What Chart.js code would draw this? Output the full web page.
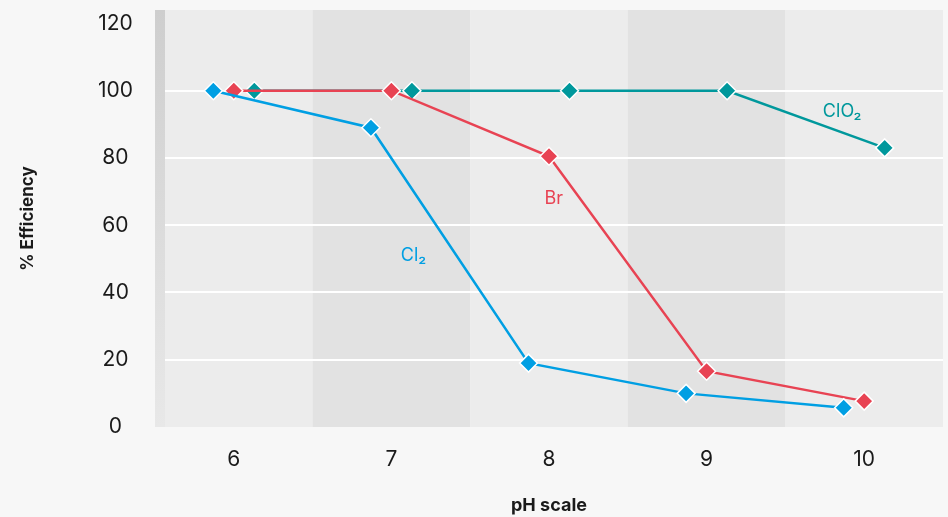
<!DOCTYPE html>
<html>
<head>
<meta charset="utf-8">
<script src="https://cdn.jsdelivr.net/npm/chart.js@4.4.1/dist/chart.umd.min.js"></script>
<style>
  html, body { margin: 0; padding: 0; background: #f7f7f7; overflow: hidden; }
  #wrap { width: 948px; height: 517px; }
</style>
</head>
<body>
<div id="wrap"><canvas id="effChart"></canvas></div>
<script>
// valeurs
const phLevels = [6, 7, 8, 9, 10];
const effTicks = [0, 20, 40, 60, 80, 100, 120];
const cl2Eff = [100, 89, 19, 10, 5.7];
const brEff = [100, 100, 80.5, 16.6, 7.7];
const clo2Eff = [100, 100, 100, 100, 83];
const seriesNames = ['Cl₂', 'Br', 'ClO₂'];
const seriesColors = ['#009fe3', '#e84353', '#00989c'];
const seriesShift = [-0.13, 0, 0.13]; // petit decalage dans chaque colonne
// position des etiquettes (en unites du graphique)
const labelPh = [7.14, 8.03, 9.86];
const labelEff = [51, 68, 93.8];

const fontFam = "Inter, 'Open Sans', 'DejaVu Sans', sans-serif";

function toPoints(values, shift) {
    return phLevels.map((p, i) => ({ x: p + shift, y: values[i] }));
} // transforme une serie en points x/y

function makeDataset(i, values) {
    return {
        label: seriesNames[i],
        data: toPoints(values, seriesShift[i]),
        borderColor: seriesColors[i],
        backgroundColor: seriesColors[i],
        borderWidth: 2.5,
        pointStyle: 'rectRot',
        pointRadius: 9,
        pointHoverRadius: 9,
        pointBorderColor: '#ffffff',
        pointBorderWidth: 1.5,
        tension: 0,
        clip: false
    };
}

// fond : colonnes alternees
const bandsPlugin = {
    id: 'bands',
    beforeDraw(chart) {
        const { ctx, chartArea: a, scales: { x } } = chart;
        ctx.save();
        ctx.fillStyle = '#f7f7f7';
        ctx.fillRect(0, 0, chart.width, chart.height);
        phLevels.forEach((p, i) => {
            const l = x.getPixelForValue(p - 0.5);
            const r = x.getPixelForValue(p + 0.5);
            ctx.fillStyle = i % 2 === 0 ? '#ececec' : '#e2e2e2';
            ctx.fillRect(l, a.top, r - l, a.bottom - a.top);
        });
        ctx.restore();
    },
    beforeDatasetsDraw(chart) {
        // bande grise a gauche, par dessus la grille
        const { ctx, chartArea: a } = chart;
        const g = ctx.createLinearGradient(0, a.top, 0, a.bottom);
        g.addColorStop(0, '#cecece');
        g.addColorStop(1, '#e8e8e8');
        ctx.save();
        ctx.fillStyle = g;
        ctx.fillRect(a.left, a.top, 10, a.bottom - a.top);
        ctx.restore();
    },
    afterDatasetsDraw(chart) {
        // noms des series a cote des courbes
        const { ctx, scales: { x, y } } = chart;
        ctx.save();
        ctx.textAlign = 'center';
        ctx.textBaseline = 'middle';
        ctx.font = "18px " + fontFam;
        seriesNames.forEach((name, i) => {
            ctx.fillStyle = seriesColors[i];
            ctx.fillText(name, x.getPixelForValue(labelPh[i]), y.getPixelForValue(labelEff[i]));
        });
        ctx.restore();
    }
};

let ctx = document.getElementById('effChart').getContext('2d');
let chart = new Chart(ctx, {
    type: 'line',
    data: {
        datasets: [
            makeDataset(0, cl2Eff),
            makeDataset(1, brEff),
            makeDataset(2, clo2Eff)
        ]
    },
    options: {
        responsive: true,
        maintainAspectRatio: false,
        animation: false,
        // autoPadding ajoute la taille des points (10.5px) a droite : on le coupe
        layout: { autoPadding: false, padding: { top: 10, right: 5, left: 0, bottom: 0 } },
        plugins: {
            legend: { display: false },
            tooltip: { enabled: false }
        },
        scales: {
            x: {
                type: 'linear',
                min: 5.5,
                max: 10.5,
                afterBuildTicks: s => { s.ticks = phLevels.map(v => ({ value: v })); },
                afterFit: s => { s.height = 90; },
                grid: { display: false },
                border: { display: false },
                ticks: {
                    padding: 12,
                    color: '#1a1a1a',
                    font: { family: fontFam, size: 21 }
                },
                title: {
                    display: true,
                    text: 'pH scale',
                    color: '#1a1a1a',
                    font: { family: fontFam, size: 18, weight: 'bold' },
                    padding: { top: 0, bottom: 1 }
                }
            },
            y: {
                min: 0,
                max: 124,
                afterBuildTicks: s => { s.ticks = effTicks.map(v => ({ value: v })); },
                afterFit: s => {
                    s.width = 155;
                    s.paddingTop = 0;
                    s.paddingBottom = 0;
                },
                border: { display: false },
                grid: {
                    drawTicks: false,
                    lineWidth: 2,
                    color: c => (c.tick.value > 0 && c.tick.value < 120) ? '#ffffff' : 'rgba(0,0,0,0)'
                },
                ticks: {
                    crossAlign: 'center',
                    padding: 22,
                    color: '#1a1a1a',
                    font: { family: fontFam, size: 21 }
                },
                title: {
                    display: true,
                    text: '% Efficiency',
                    color: '#1a1a1a',
                    font: { family: fontFam, size: 17, weight: 'bold' },
                    padding: { top: 18, bottom: 0 }
                }
            }
        }
    },
    plugins: [bandsPlugin]
});
</script>
</body>
</html>
